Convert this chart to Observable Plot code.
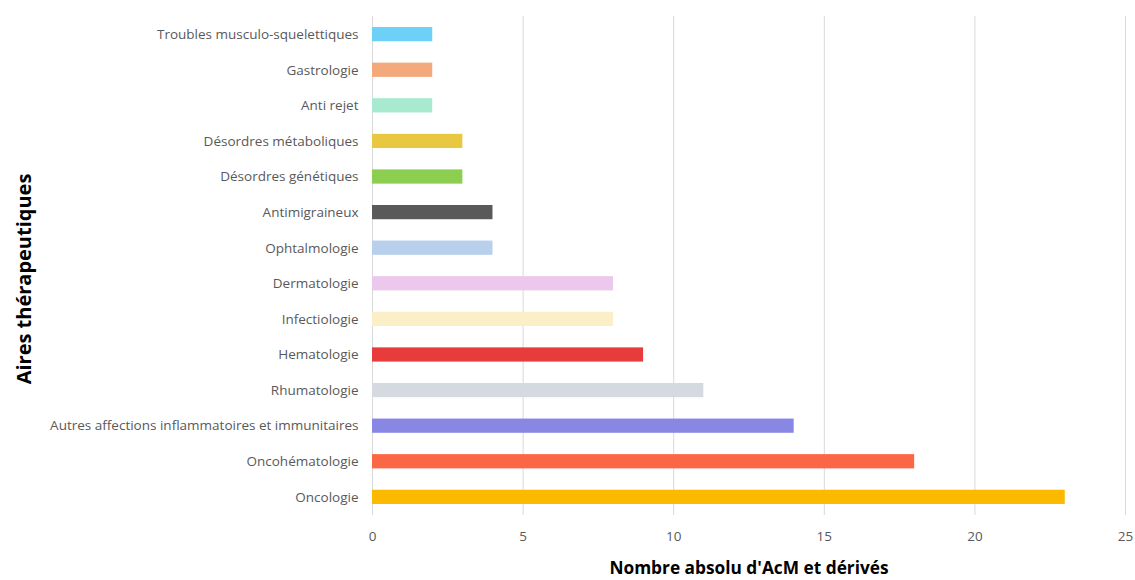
<!DOCTYPE html>
<html><head><meta charset="utf-8">
<script src="https://cdn.jsdelivr.net/npm/d3@7"></script>
<script src="https://cdn.jsdelivr.net/npm/@observablehq/plot@0.6"></script>
<style>
body{margin:0;background:#fff;}
</style></head>
<body><div id="chart"></div>
<script>
const categories = ["Troubles musculo-squelettiques","Gastrologie","Anti rejet","Désordres métaboliques","Désordres génétiques","Antimigraineux","Ophtalmologie","Dermatologie","Infectiologie","Hematologie","Rhumatologie","Autres affections inflammatoires et immunitaires","Oncohématologie","Oncologie"];
const values = [2,2,2,3,3,4,4,8,8,9,11,14,18,23];
const colors = ["#6dd0f7","#f4a97d","#a8ead0","#e8c840","#8ccf50","#595959","#b8d0ec","#ecc8ec","#fbefc8","#e83c3c","#d4dae0","#8888e4","#fb6644","#fbb900"];
const xTicks = [0,5,10,15,20,25];

const data = categories.map((c,i)=>({cat:c, val:values[i]}));

const chart = Plot.plot({
  width:1135, height:580,
  marginLeft:372, marginRight:10, marginTop:16, marginBottom:65,
  style:{fontFamily:"'Open Sans', sans-serif", fontSize:"13.5px", color:"#595959", background:"#fff"},
  x:{domain:[0,25], ticks:xTicks, tickSize:0, tickPadding:16, label:"Nombre absolu d'AcM et dérivés", labelAnchor:"center", labelArrow:"none", labelOffset:58},
  y:{domain:categories, round:false, paddingInner:0.6, paddingOuter:0.31, tickSize:0, tickPadding:14, label:"Aires thérapeutiques", labelAnchor:"center", labelArrow:"none", labelOffset:356},
  color:{domain:categories, range:colors},
  marks:[
    Plot.gridX(xTicks,{stroke:"#d9d9d9", strokeOpacity:1, strokeWidth:1}),
    Plot.barX(data,{y:"cat", x:"val", fill:"cat"})
  ]
});
chart.querySelectorAll("g[aria-label='x-axis label'] text").forEach(t=>{
  t.setAttribute("font-weight","bold");
  t.setAttribute("font-size","17.3");
  t.setAttribute("fill","#000");
});
chart.querySelectorAll("g[aria-label='y-axis label'] text").forEach(t=>{
  t.setAttribute("font-weight","bold");
  t.setAttribute("font-size","20");
  t.setAttribute("fill","#000");
  t.setAttribute("dx","-13");
});
document.getElementById("chart").appendChild(chart);
</script>
</body></html>
